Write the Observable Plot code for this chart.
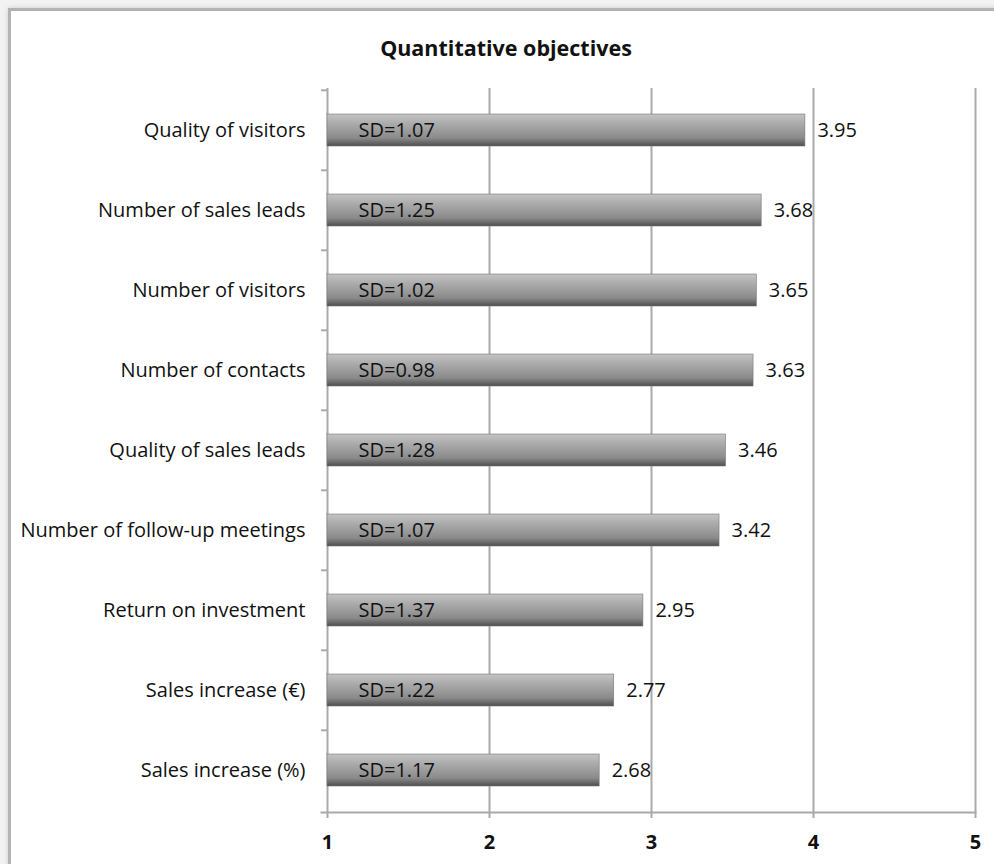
<!DOCTYPE html>
<html>
<head>
<meta charset="utf-8">
<script src="https://cdn.jsdelivr.net/npm/d3@7"></script>
<script src="https://cdn.jsdelivr.net/npm/@observablehq/plot@0.6"></script>
<style>
  html, body { margin: 0; padding: 0; background: #f2f2f2; }
  #wrap { position: relative; width: 994px; height: 864px; overflow: hidden; background: #f2f2f2; }
  #box { position: absolute; left: 8px; top: 8px; width: 1000px; height: 900px; background: #fff;
         border-left: 3px solid #b3b3b3; border-top: 3px solid #b3b3b3; box-shadow: 0 0 5px rgba(0,0,0,0.15); }
  #title { position: absolute; left: 0; width: 1012px; top: 33px; text-align: center;
           font-family: "Open Sans", sans-serif; font-weight: bold; font-size: 21.5px; color: #111; }
  #chart { position: absolute; left: 0; top: 0; }
</style>
</head>
<body>
<div id="wrap">
  <div id="box"></div>
  <div id="title">Quantitative objectives</div>
  <div id="chart"></div>
</div>
<script>
const categories = [
  "Quality of visitors",
  "Number of sales leads",
  "Number of visitors",
  "Number of contacts",
  "Quality of sales leads",
  "Number of follow-up meetings",
  "Return on investment",
  "Sales increase (€)",
  "Sales increase (%)"
];
const means = [3.95, 3.68, 3.65, 3.63, 3.46, 3.42, 2.95, 2.77, 2.68];
const sds = ["1.07", "1.25", "1.02", "0.98", "1.28", "1.07", "1.37", "1.22", "1.17"];
const xTicks = [1, 2, 3, 4, 5];
const gridValues = [2, 3, 4, 5];

const data = categories.map((c, i) => ({category: c, mean: means[i], sd: sds[i]}));

const W = 994, H = 864, mT = 88, mB = 52, mL = 327, mR = 19;
const step = (H - mT - mB) / categories.length;

const gradientDefs = () => {
  const ns = "http://www.w3.org/2000/svg";
  const defs = document.createElementNS(ns, "defs");
  defs.innerHTML = `
    <linearGradient id="barGrad" x1="0" y1="0" x2="0" y2="1">
      <stop offset="0%" stop-color="#c4c4c4"/>
      <stop offset="30%" stop-color="#ababab"/>
      <stop offset="75%" stop-color="#8a8a8a"/>
      <stop offset="100%" stop-color="#4e4e4e"/>
    </linearGradient>`;
  return defs;
};

const font = '"Open Sans", sans-serif';

const plot = Plot.plot({
  width: W,
  height: H,
  marginTop: mT,
  marginBottom: mB,
  marginLeft: mL,
  marginRight: mR,
  style: {fontFamily: font, fontSize: "20px", color: "#111", background: "transparent"},
  x: {domain: [1, 5], ticks: xTicks, label: null},
  y: {domain: categories, paddingInner: 0.6, paddingOuter: 0.3, label: null},
  marks: [
    gradientDefs,
    // vertical gridlines
    Plot.ruleX(gridValues, {stroke: "#a9a9a9", strokeWidth: 2, insetBottom: -6}),
    // y axis line
    Plot.ruleX([1], {stroke: "#a9a9a9", strokeWidth: 2, insetBottom: -6}),
    // x axis line
    Plot.frame({anchor: "bottom", stroke: "#a9a9a9", strokeWidth: 2, insetLeft: -6}),
    // y tick marks at band boundaries
    Plot.ruleY(categories, {y: d => d, x1: 1, x2: 1, insetLeft: -6, dy: -step / 2, stroke: "#a9a9a9", strokeWidth: 2}),
    // bars
    Plot.barX(data, {y: "category", x1: 1, x2: "mean", fill: "url(#barGrad)", stroke: "#777", strokeWidth: 0.6}),
    // SD labels
    Plot.text(data, {y: "category", x: 1, text: d => "SD=" + d.sd, textAnchor: "start", dx: 31, fontSize: 20, fill: "#111"}),
    // value labels
    Plot.text(data, {y: "category", x: "mean", text: d => d.mean.toFixed(2), textAnchor: "start", dx: 12, fontSize: 20, fill: "#111"}),
    Plot.axisX({ticks: xTicks, tickSize: 0, tickPadding: 22, fontWeight: "bold", fontSize: 20, tickFormat: d => String(d), label: null}),
    Plot.axisY({tickSize: 0, tickPadding: 22, fontSize: 20, label: null})
  ]
});
document.getElementById("chart").appendChild(plot);
</script>
</body>
</html>
